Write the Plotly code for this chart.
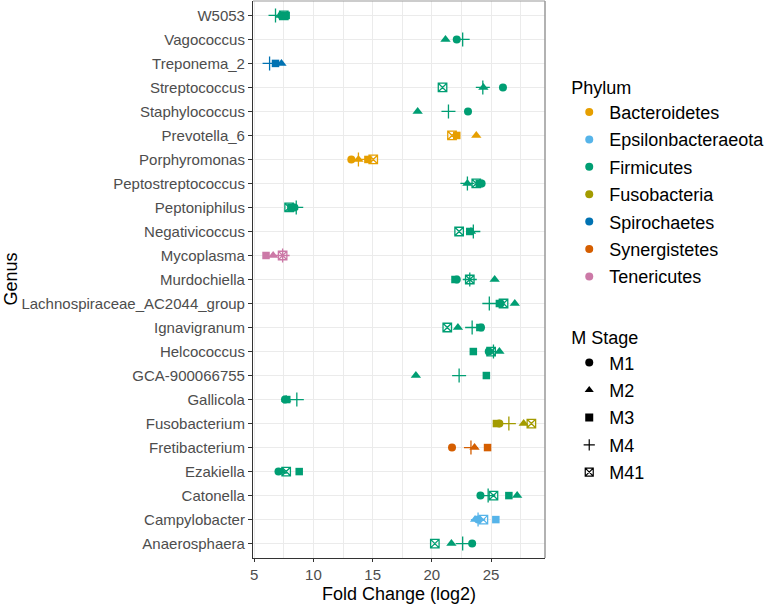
import plotly.graph_objects as go

# ---- data ----
genus = ["W5053", "Vagococcus", "Treponema_2", "Streptococcus", "Staphylococcus",
         "Prevotella_6", "Porphyromonas", "Peptostreptococcus", "Peptoniphilus",
         "Negativicoccus", "Mycoplasma", "Murdochiella", "Lachnospiraceae_AC2044_group",
         "Ignavigranum", "Helcococcus", "GCA-900066755", "Gallicola", "Fusobacterium",
         "Fretibacterium", "Ezakiella", "Catonella", "Campylobacter", "Anaerosphaera"]
phylum = ["Firmicutes", "Firmicutes", "Spirochaetes", "Firmicutes", "Firmicutes",
          "Bacteroidetes", "Bacteroidetes", "Firmicutes", "Firmicutes",
          "Firmicutes", "Tenericutes", "Firmicutes", "Firmicutes",
          "Firmicutes", "Firmicutes", "Firmicutes", "Firmicutes", "Fusobacteria",
          "Synergistetes", "Firmicutes", "Firmicutes", "Epsilonbacteraeota", "Firmicutes"]

m1 = [7.3, 22.1, None, 26.0, 23.05, None, 13.2, 24.2, 8.4, None, None, 22.1, 25.8,
      24.15, 24.8, None, 7.6, 25.7, 21.7, 7.05, 24.1, 23.9, 23.4]
m2 = [7.2, 21.15, 7.3, 24.35, 18.8, 23.75, 13.8, 23.0, 8.3, 23.3, 6.6, 25.3, 27.0,
      22.2, 25.7, 18.65, 7.7, 27.75, 23.6, 7.35, 27.2, 23.65, 21.65]
m3 = [7.7, None, 6.8, None, None, 22.1, 14.6, 24.0, 8.1, 23.2, 6.0, 21.95, 25.7,
      24.05, 23.5, 24.6, 7.75, 25.45, 24.7, 8.8, 26.5, 25.4, None]
m4 = [6.8, 22.6, 6.3, 24.3, 21.4, None, 13.8, 23.0, 8.55, 23.5, 7.4, 23.2, 24.85,
      23.4, 25.2, 22.3, 8.6, 26.5, 23.3, None, 24.75, 23.9, 22.6]
m41 = [7.5, None, None, 20.9, None, 21.7, 15.05, 23.75, 7.95, 22.3, 7.4, 23.2, 26.05,
       21.3, 25.0, None, None, 28.4, None, 7.7, 25.2, 24.35, 20.25]

phyla = ["Bacteroidetes", "Epsilonbacteraeota", "Firmicutes", "Fusobacteria",
         "Spirochaetes", "Synergistetes", "Tenericutes"]
phylum_colors = ["#E69F00", "#56B4E9", "#009E73", "#A39B00", "#0072B2", "#D55E00", "#CC79A7"]
stages = ["M1", "M2", "M3", "M4", "M41"]
stage_values = [m1, m2, m3, m4, m41]
stage_symbols = ["circle", "triangle-up", "square", "cross-thin", "square-x-open"]
stage_sizes = [8, 9, 7.5, 10, 8.5]

cmap = dict(zip(phyla, phylum_colors))
FONT = "Liberation Sans, Arial, sans-serif"
LINE_SYMS = ("cross-thin", "square-x-open")

fig = go.Figure()

for st, vals, sym, sz in zip(stages, stage_values, stage_symbols, stage_sizes):
    xs, ys, cs = [], [], []
    for g, p, v in zip(genus, phylum, vals):
        if v is not None:
            xs.append(v); ys.append(g); cs.append(cmap[p])
    fig.add_trace(go.Scatter(
        x=xs, y=ys, mode="markers", showlegend=False, name=st, hoverinfo="x+y",
        marker=dict(symbol=sym, size=sz, color=cs,
                    line=dict(color=cs, width=1.3) if sym in LINE_SYMS else dict(width=0))))

# legend entries (Phylum)
for p, c in zip(phyla, phylum_colors):
    fig.add_trace(go.Scatter(x=[None], y=[None], mode="markers", name=p, legend="legend",
                             legendgroup="ph_" + p,
                             marker=dict(symbol="circle", size=8, color=c)))
# legend entries (M Stage)
for st, sym in zip(stages, stage_symbols):
    fig.add_trace(go.Scatter(x=[None], y=[None], mode="markers", name=st, legend="legend2",
                             legendgroup="st_" + st,
                             marker=dict(symbol=sym, size=8, color="black",
                                         line=dict(color="black", width=1.2) if sym in LINE_SYMS else dict(width=0))))

fig.update_layout(
    width=771, height=604,
    margin=dict(l=253, r=222, t=1, b=46),
    plot_bgcolor="white", paper_bgcolor="white",
    font=dict(family=FONT, size=15, color="#4D4D4D"),
    xaxis=dict(range=[4.9, 29.55], tickmode="linear", tick0=5, dtick=5,
               showgrid=True, gridcolor="#EBEBEB", gridwidth=1.1,
               minor=dict(tick0=0, dtick=2.5, showgrid=True, gridcolor="#EBEBEB", gridwidth=0.8),
               zeroline=False, showline=True, linecolor="#333333", linewidth=1.1,
               ticks="outside", ticklen=3, tickcolor="#333333", tickwidth=1,
               tickfont=dict(family=FONT, size=15, color="#4D4D4D")),
    yaxis=dict(type="category", categoryorder="array", categoryarray=genus[::-1],
               range=[-0.6, len(genus) - 0.4],
               showgrid=True, gridcolor="#EBEBEB", gridwidth=1.1, zeroline=False,
               showline=True, linecolor="#333333", linewidth=1.1,
               ticks="outside", ticklen=4, tickcolor="#333333", tickwidth=1,
               tickfont=dict(family=FONT, size=15, color="#4D4D4D")),
    legend=dict(title=dict(text="Phylum", font=dict(family=FONT, size=18, color="black")),
                x=1.083, xanchor="left", y=0.8754, yanchor="top",
                font=dict(family=FONT, size=18, color="black"), bgcolor="rgba(0,0,0,0)",
                itemwidth=30, tracegroupgap=1),
    legend2=dict(title=dict(text="M Stage", font=dict(family=FONT, size=18, color="black")),
                 x=1.083, xanchor="left", y=0.4255, yanchor="top",
                 font=dict(family=FONT, size=18, color="black"), bgcolor="rgba(0,0,0,0)",
                 itemwidth=30, tracegroupgap=1),
    shapes=[
        dict(type="line", xref="paper", yref="paper", x0=0, x1=1, y0=1, y1=1,
             line=dict(color="#999999", width=1.2)),
        dict(type="line", xref="paper", yref="paper", x0=1, x1=1, y0=0, y1=1,
             line=dict(color="#999999", width=1.5)),
    ],
    annotations=[
        dict(text="Fold Change (log2)", xref="paper", yref="paper", x=0.5, y=0,
             yshift=-36, xanchor="center", yanchor="middle", showarrow=False,
             font=dict(family=FONT, size=18, color="black")),
        dict(text="Genus", xref="paper", yref="paper", x=0, y=0.5, xshift=-243,
             xanchor="center", yanchor="middle", textangle=-90, showarrow=False,
             font=dict(family=FONT, size=18, color="black")),
    ],
)

fig.write_html("out.html", config={"displayModeBar": False},
               post_script="document.body.style.margin='0';")
